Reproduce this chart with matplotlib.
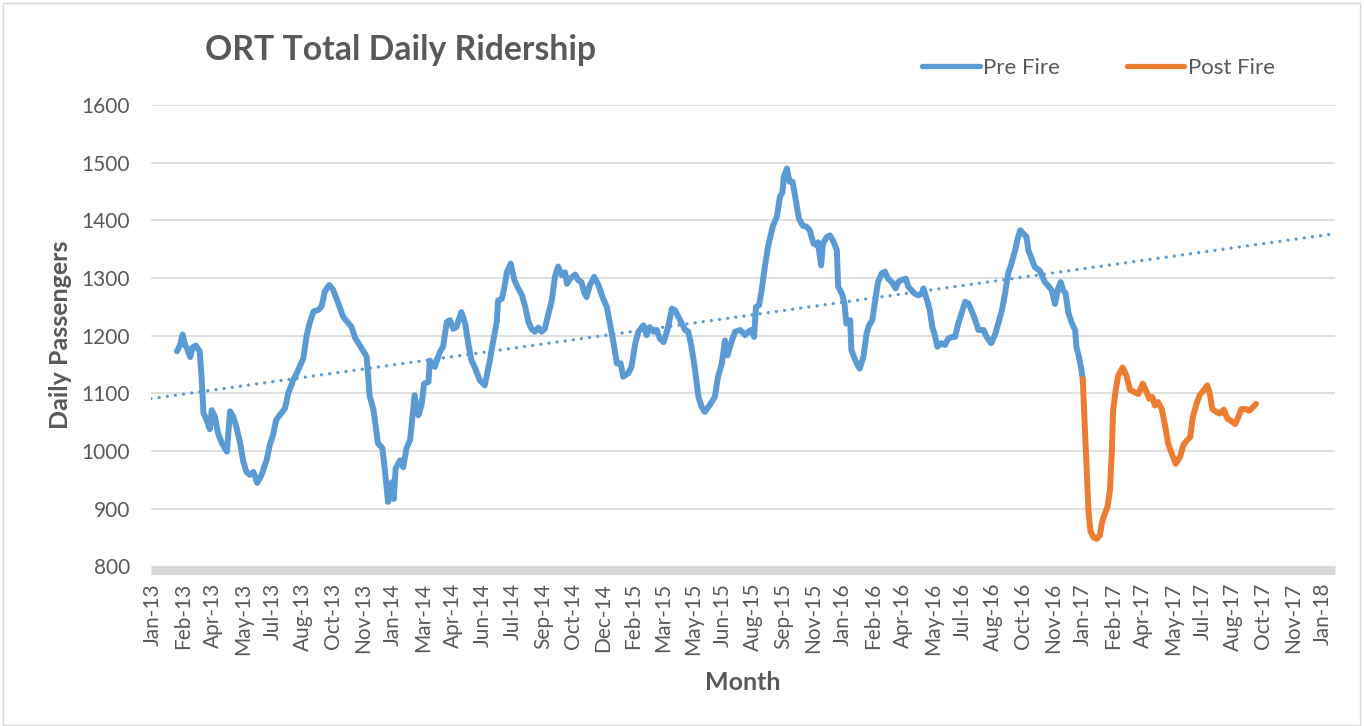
import numpy as np
import matplotlib
matplotlib.use("Agg")
import matplotlib.pyplot as plt
from matplotlib.lines import Line2D
from matplotlib.patches import Rectangle

plt.rcParams['font.family'] = ['Lato', 'DejaVu Sans']

# ---------------- data ----------------
x_tick_labels = ['Jan-13', 'Feb-13', 'Apr-13', 'May-13', 'Jul-13', 'Aug-13', 'Oct-13', 'Nov-13',
                 'Jan-14', 'Mar-14', 'Apr-14', 'Jun-14', 'Jul-14', 'Sep-14', 'Oct-14', 'Dec-14',
                 'Feb-15', 'Mar-15', 'May-15', 'Jun-15', 'Aug-15', 'Sep-15', 'Nov-15', 'Jan-16',
                 'Feb-16', 'Apr-16', 'May-16', 'Jul-16', 'Aug-16', 'Oct-16', 'Nov-16', 'Jan-17',
                 'Feb-17', 'Apr-17', 'May-17', 'Jul-17', 'Aug-17', 'Oct-17', 'Nov-17', 'Jan-18']
tick_step_days = 47.46          # days between labelled ticks (axis scale)
x_range_days = (-3, 1870)
y_ticks = [800, 900, 1000, 1100, 1200, 1300, 1400, 1500, 1600]

# days since the Jan-13 tick
pre_fire_day = [38, 43, 47, 51, 54, 59, 63, 68, 74, 77, 80, 85, 90, 93, 98, 103, 109, 117, 122, 127,
                132, 138, 143, 148, 153, 159, 165, 172, 180, 185, 190, 195, 201, 209, 214, 222, 230,
                238, 243, 248, 254, 262, 267, 272, 279, 285, 293, 301, 309, 314, 320, 327, 333, 338,
                343, 349, 356, 363, 367, 372, 378, 381, 384, 391, 396, 401, 407, 414, 420, 425, 429,
                436, 438, 446, 454, 459, 465, 470, 475, 480, 488, 494, 499, 504, 509, 517, 525, 533,
                538, 544, 546, 552, 556, 560, 566, 572, 578, 584, 589, 594, 599, 604, 610, 615, 620,
                625, 631, 636, 641, 647, 652, 655, 660, 668, 673, 678, 682, 686, 691, 698, 704, 712,
                718, 723, 728, 734, 740, 744, 752, 757, 763, 768, 776, 781, 786, 792, 797, 802, 808,
                815, 821, 826, 834, 842, 847, 852, 857, 863, 868, 873, 881, 889, 894, 900, 905, 909,
                916, 921, 929, 937, 942, 947, 951, 954, 959, 963, 968, 973, 981, 987, 992, 996, 998,
                1003, 1007, 1012, 1017, 1022, 1028, 1034, 1039, 1045, 1050, 1052, 1057, 1060, 1066,
                1071, 1076, 1082, 1084, 1090, 1094, 1097, 1103, 1105, 1111, 1115, 1118, 1124, 1129,
                1133, 1138, 1142, 1147, 1153, 1158, 1163, 1169, 1175, 1179, 1185, 1191, 1195, 1200,
                1205, 1211, 1216, 1219, 1224, 1229, 1233, 1237, 1241, 1247, 1253, 1258, 1264, 1269,
                1274, 1279, 1285, 1290, 1295, 1300, 1306, 1314, 1319, 1326, 1332, 1338, 1343, 1348,
                1353, 1358, 1364, 1368, 1372, 1377, 1382, 1385, 1390, 1395, 1403, 1411, 1416, 1422,
                1427, 1432, 1436, 1440, 1444, 1448, 1453, 1459, 1461, 1465, 1469, 1471]
pre_fire_riders = [1173, 1184, 1202, 1184, 1178, 1163, 1180, 1183, 1173, 1129, 1066, 1054, 1038, 1071,
                   1060, 1031, 1014, 999, 1069, 1060, 1042, 1014, 982, 964, 959, 964, 945, 959, 985,
                   1011, 1028, 1054, 1063, 1074, 1100, 1123, 1141, 1161, 1199, 1222, 1242, 1245, 1251,
                   1277, 1288, 1280, 1257, 1233, 1222, 1216, 1196, 1184, 1173, 1164, 1095, 1071, 1014,
                   1005, 967, 912, 946, 917, 970, 984, 972, 1004, 1020, 1097, 1062, 1080, 1117, 1120,
                   1157, 1146, 1172, 1181, 1224, 1227, 1212, 1215, 1241, 1221, 1186, 1157, 1146, 1123,
                   1114, 1157, 1189, 1224, 1261, 1264, 1284, 1310, 1325, 1296, 1282, 1270, 1250, 1224,
                   1212, 1207, 1214, 1207, 1212, 1235, 1261, 1302, 1320, 1305, 1310, 1290, 1299, 1306,
                   1296, 1293, 1276, 1267, 1287, 1302, 1290, 1265, 1250, 1221, 1192, 1152, 1152, 1129,
                   1135, 1146, 1186, 1207, 1218, 1201, 1215, 1207, 1210, 1195, 1189, 1215, 1247, 1244,
                   1227, 1210, 1207, 1181, 1146, 1094, 1077, 1068, 1080, 1094, 1129, 1152, 1192, 1166,
                   1192, 1207, 1210, 1201, 1207, 1210, 1198, 1250, 1253, 1279, 1319, 1354, 1391, 1406,
                   1441, 1449, 1475, 1490, 1467, 1467, 1435, 1403, 1391, 1389, 1383, 1360, 1357, 1362,
                   1322, 1360, 1371, 1374, 1365, 1348, 1285, 1273, 1256, 1221, 1227, 1175, 1158, 1149,
                   1143, 1163, 1204, 1218, 1227, 1256, 1293, 1308, 1311, 1299, 1293, 1282, 1293, 1297,
                   1299, 1285, 1279, 1273, 1270, 1273, 1282, 1264, 1244, 1215, 1201, 1181, 1187, 1184,
                   1195, 1198, 1198, 1221, 1238, 1259, 1256, 1244, 1230, 1210, 1210, 1198, 1187, 1201,
                   1224, 1244, 1273, 1308, 1325, 1348, 1368, 1383, 1377, 1371, 1348, 1334, 1319, 1313,
                   1293, 1287, 1279, 1255, 1282, 1293, 1279, 1273, 1241, 1224, 1209, 1180, 1163, 1140,
                   1125]

post_fire_day = [1471, 1474, 1477, 1480, 1483, 1488, 1493, 1498, 1501, 1504, 1510, 1514, 1517, 1519,
                 1523, 1527, 1534, 1540, 1546, 1553, 1559, 1566, 1571, 1576, 1581, 1585, 1590, 1596,
                 1601, 1606, 1612, 1618, 1625, 1630, 1635, 1641, 1645, 1651, 1656, 1662, 1668, 1672,
                 1676, 1682, 1688, 1694, 1700, 1705, 1712, 1717, 1722, 1729, 1734, 1740, 1745]
post_fire_riders = [1125, 1047, 972, 897, 862, 850, 848, 854, 874, 886, 903, 932, 1001, 1071, 1105,
                    1131, 1145, 1131, 1106, 1102, 1099, 1117, 1105, 1091, 1094, 1079, 1085, 1073,
                    1045, 1013, 995, 978, 990, 1010, 1018, 1024, 1059, 1082, 1097, 1105, 1114, 1099,
                    1073, 1068, 1065, 1072, 1056, 1053, 1047, 1059, 1073, 1073, 1070, 1076, 1082]

# linear trend of the pre-fire series (with forward forecast)
trend_day = [-3, 1870]
trend_riders = [1091, 1377]

# ---------------- style ----------------
BLUE = '#5B9BD5'
ORANGE = '#ED7D31'
GRID = '#D9D9D9'
TEXT = '#595959'

fig = plt.figure(figsize=(13.64, 7.26), dpi=100)
fig.patch.set_facecolor('white')
fig.add_artist(Rectangle((0.002, 0.002), 0.995, 0.994, transform=fig.transFigure,
                         fill=False, edgecolor=GRID, lw=1.0))

ax = fig.add_axes([151 / 1364, 1 - 566.5 / 726, (1335 - 151) / 1364, (566.5 - 105) / 726])
ax.set_facecolor('white')

ax.plot(trend_day, trend_riders, color=BLUE, lw=2.4, dashes=(0.01, 2.45),
        dash_capstyle='round', zorder=2)
ax.plot(pre_fire_day, pre_fire_riders, color=BLUE, lw=4.3, solid_joinstyle='round',
        solid_capstyle='round', zorder=3)
ax.plot(post_fire_day, post_fire_riders, color=ORANGE, lw=4.3, solid_joinstyle='round',
        solid_capstyle='round', zorder=3)

ax.set_xlim(*x_range_days)
ax.set_ylim(y_ticks[0], y_ticks[-1])
ax.set_yticks(y_ticks)
ax.set_xticks(np.arange(len(x_tick_labels)) * tick_step_days)
ax.set_xticklabels(x_tick_labels)

ax.grid(axis='y', color=GRID, lw=1.2)
ax.set_axisbelow(True)
for s in ['top', 'right', 'left']:
    ax.spines[s].set_visible(False)
ax.spines['bottom'].set_color(GRID)
ax.spines['bottom'].set_linewidth(6.5)
ax.spines['bottom'].set_position(('outward', 2.3))
ax.spines['bottom'].set_capstyle('butt')

ax.tick_params(axis='both', length=0, labelsize=15, labelcolor=TEXT)
ax.tick_params(axis='x', pad=9.5, labelrotation=90)
ax.tick_params(axis='y', pad=15)

fig.text(205 / 1364, 1 - 50 / 726, 'ORT Total Daily Ridership', fontsize=24.3,
         fontweight='bold', color=TEXT, ha='left', va='center')
fig.text(60 / 1364, 1 - 335 / 726, 'Daily Passengers', fontsize=18, fontweight='bold',
         color=TEXT, ha='center', va='center', rotation=90)
fig.text(743 / 1364, 1 - 683 / 726, 'Month', fontsize=18, fontweight='bold',
         color=TEXT, ha='center', va='center')

handles = [Line2D([], [], color=BLUE, lw=3.8, solid_capstyle='round'),
           Line2D([], [], color=ORANGE, lw=3.8, solid_capstyle='round')]
fig.legend(handles, ['Pre Fire', 'Post Fire'], loc='center left',
           bbox_to_anchor=(922 / 1364, 1 - 68 / 726), ncol=2, frameon=False,
           fontsize=16, handlelength=2.6, handletextpad=0.15, columnspacing=3.0,
           labelcolor=TEXT, borderaxespad=0, borderpad=0)

fig.savefig('out.png', dpi=100, facecolor='white')
